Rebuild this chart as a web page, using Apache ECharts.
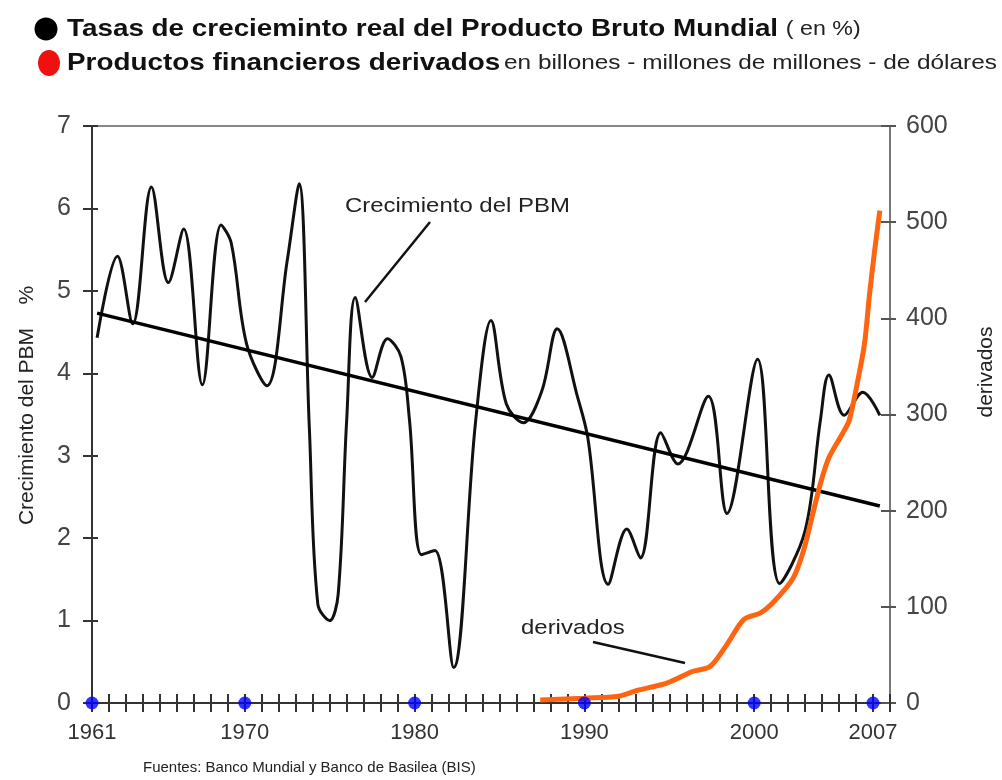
<!DOCTYPE html>
<html>
<head>
<meta charset="utf-8">
<script src="https://cdn.jsdelivr.net/npm/echarts@6/dist/echarts.min.js"></script>
<style>
  html, body { margin: 0; padding: 0; background: #fff; }
  #chart { width: 1002px; height: 780px; }
</style>
</head>
<body>
<div id="chart"></div>
<script>
// crecimiento del PBM (%)
const pbmYears = [1961.3, 1962.5, 1963.4, 1964.5, 1965.5, 1966.4, 1967.5, 1968.6, 1969.2, 1970.1,
  1971.3, 1972.5, 1973.2, 1973.8, 1974.3, 1975.0, 1975.5, 1976.0, 1976.5, 1977.5,
  1978.4, 1979.2, 1979.7, 1980.4, 1981.2, 1982.3, 1983.6, 1984.5, 1985.4, 1986.4,
  1987.5, 1988.4, 1989.6, 1990.2, 1991.4, 1992.5, 1993.3, 1994.5, 1995.5, 1997.3,
  1998.4, 2000.2, 2001.5, 2003.0, 2003.9, 2004.4, 2005.3, 2006.4, 2007.4];
const pbmValues = [4.43, 5.42, 4.6, 6.26, 5.1, 5.75, 3.86, 5.8, 5.58, 4.36,
  3.85, 5.37, 6.3, 3.34, 1.2, 1.0, 1.32, 3.43, 4.92, 3.95,
  4.42, 4.2, 3.43, 1.8, 1.85, 0.43, 3.43, 4.64, 3.63, 3.4,
  3.79, 4.54, 3.71, 3.22, 1.44, 2.11, 1.76, 3.28, 2.9, 3.72,
  2.3, 4.17, 1.45, 2.09, 3.43, 3.98, 3.49, 3.77, 3.49];

// tendencia
const trendYears = [1961.3, 2007.4];
const trendValues = [4.73, 2.39];

// derivados (billones de dolares)
const dvYears = [1987.4, 1990.0, 1992.0, 1993.1, 1994.9, 1996.4, 1997.4, 1998.4, 1999.4, 2000.4,
  2001.2, 2002.3, 2002.9, 2003.5, 2003.9, 2004.4, 2005.2, 2005.6, 2006.1, 2006.5,
  2006.8, 2007.1, 2007.4];
const dvValues = [3, 5, 7, 13, 21, 33, 38, 61, 87, 94,
  106, 130, 158, 200, 228, 255, 280, 294, 335, 374,
  426, 471, 512];

const labelYears = [1961, 1970, 1980, 1990, 2000, 2007];
const dotYears = [1961, 1970, 1980, 1990, 2000, 2007];

const zip = (xs, ys) => xs.map((x, i) => [x, ys[i]]);

const sans = '"Liberation Sans", Arial, sans-serif';

const chart = echarts.init(document.getElementById('chart'));

const xBase = {
  type: 'value', min: 1961, max: 2008, interval: 1,
  splitLine: { show: false }
};

chart.setOption({
  animation: false,
  backgroundColor: '#fff',
  grid: { left: 92, right: 112, top: 126, bottom: 77, show: true, borderColor: '#888', borderWidth: 2 },
  xAxis: [
    Object.assign({}, xBase, {
      axisLine: { lineStyle: { color: '#333', width: 2 } },
      axisTick: { length: 9, lineStyle: { color: '#333', width: 2 } },
      axisLabel: {
        margin: 19, fontSize: 22, color: '#333', fontFamily: sans,
        formatter: v => labelYears.includes(v) ? String(v) : ''
      }
    }),
    Object.assign({}, xBase, {
      position: 'bottom',
      axisLine: { show: false },
      axisTick: { inside: true, length: 9, lineStyle: { color: '#333', width: 2 } },
      axisLabel: { show: false }
    })
  ],
  yAxis: [
    {
      type: 'value', min: 0, max: 7, interval: 1, position: 'left',
      name: 'Crecimiento del PBM    %', nameLocation: 'middle', nameGap: 54, nameRotate: 90,
      nameTextStyle: { fontSize: 21, color: '#222', fontFamily: sans, padding: [0, 0, 0, 18] },
      axisLine: { show: true, lineStyle: { color: '#333', width: 2 } },
      axisTick: { show: true, length: 9, lineStyle: { color: '#333', width: 2 } },
      axisLabel: { margin: 21, fontSize: 25, color: '#444', fontFamily: sans },
      splitLine: { show: false }
    },
    {
      type: 'value', min: 0, max: 600, interval: 100, position: 'right',
      axisLine: { show: true, lineStyle: { color: '#777', width: 2 } },
      axisTick: { show: true, length: 6, lineStyle: { color: '#555', width: 2 } },
      axisLabel: { margin: 16, fontSize: 25, color: '#444', fontFamily: sans },
      splitLine: { show: false }
    },
    {
      type: 'value', min: 0, max: 7, interval: 1, position: 'left',
      axisLine: { show: false },
      axisTick: { show: true, inside: true, length: 6, lineStyle: { color: '#333', width: 2 } },
      axisLabel: { show: false },
      splitLine: { show: false }
    },
    {
      type: 'value', min: 0, max: 600, interval: 100, position: 'right',
      axisLine: { show: false },
      axisTick: { show: true, inside: true, length: 9, lineStyle: { color: '#555', width: 2 } },
      axisLabel: { show: false },
      splitLine: { show: false }
    }
  ],
  series: [
    {
      name: 'Crecimiento del PBM', type: 'line', xAxisIndex: 0, yAxisIndex: 0,
      data: zip(pbmYears, pbmValues), smooth: 0.35, showSymbol: false,
      lineStyle: { color: '#111', width: 3 }, z: 3
    },
    {
      name: 'Tendencia', type: 'line', xAxisIndex: 0, yAxisIndex: 0,
      data: zip(trendYears, trendValues), showSymbol: false,
      lineStyle: { color: '#000', width: 3.5 }, z: 3
    },
    {
      name: 'derivados', type: 'line', xAxisIndex: 0, yAxisIndex: 1,
      data: zip(dvYears, dvValues), smooth: 0.3, showSymbol: false,
      lineStyle: { color: '#ff6410', width: 5 }, z: 4
    },
    {
      type: 'scatter', xAxisIndex: 0, yAxisIndex: 0, clip: false,
      data: dotYears.map(y => [y, 0]), symbolSize: 13,
      itemStyle: { color: '#0000ff' }, z: 6
    }
  ],
  graphic: [
    { type: 'ellipse', shape: { cx: 46, cy: 29, rx: 11.5, ry: 11.5 }, style: { fill: '#000' } },
    { type: 'ellipse', shape: { cx: 49, cy: 63, rx: 11, ry: 13 }, style: { fill: '#f01010' } },
    {
      type: 'text', x: 67, y: 29, scaleX: 1.16,
      style: {
        text: '{b|Tasas de crecieminto real del Producto Bruto Mundial}  {s|( en %)}',
        verticalAlign: 'middle',
        rich: {
          b: { fontSize: 24, fontWeight: 'bold', fill: '#111', fontFamily: sans },
          s: { fontSize: 20, fill: '#222', fontFamily: sans }
        }
      }
    },
    {
      type: 'text', x: 67, y: 63, scaleX: 1.16,
      style: {
        text: '{b|Productos financieros derivados} {s|en billones - millones de millones - de dólares}',
        verticalAlign: 'middle',
        rich: {
          b: { fontSize: 24, fontWeight: 'bold', fill: '#111', fontFamily: sans },
          s: { fontSize: 21, fill: '#222', fontFamily: sans }
        }
      }
    },
    {
      type: 'text', x: 986, y: 372, rotation: Math.PI / 2,
      style: { text: 'derivados', fontSize: 21, fill: '#222', fontFamily: sans, align: 'center', verticalAlign: 'middle' }
    },
    {
      type: 'text', x: 345, y: 206, scaleX: 1.14,
      style: { text: 'Crecimiento del PBM', fontSize: 21, fill: '#222', fontFamily: sans, verticalAlign: 'middle' }
    },
    { type: 'line', shape: { x1: 430, y1: 222, x2: 365, y2: 302 }, style: { stroke: '#111', lineWidth: 2.5 } },
    {
      type: 'text', x: 521, y: 628, scaleX: 1.14,
      style: { text: 'derivados', fontSize: 21, fill: '#222', fontFamily: sans, verticalAlign: 'middle' }
    },
    { type: 'line', shape: { x1: 593, y1: 642, x2: 685, y2: 663 }, style: { stroke: '#111', lineWidth: 2.5 } },
    {
      type: 'text', x: 143, y: 768,
      style: { text: 'Fuentes: Banco Mundial y Banco de Basilea (BIS)', fontSize: 15, fill: '#222', fontFamily: sans, verticalAlign: 'middle' }
    }
  ]
});
</script>
</body>
</html>
